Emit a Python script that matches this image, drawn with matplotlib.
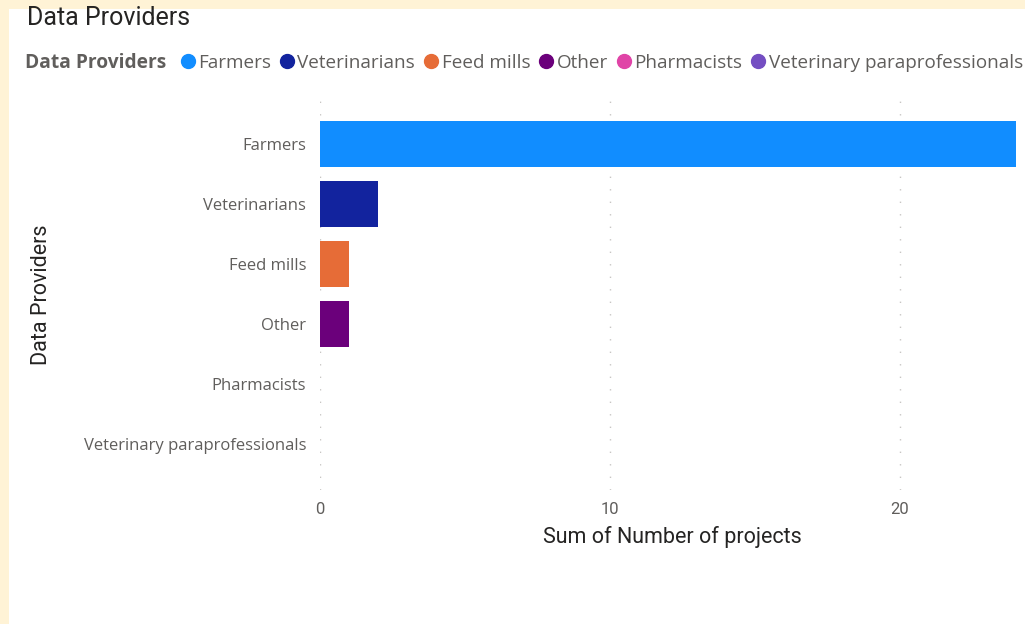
import matplotlib
matplotlib.use("Agg")
import matplotlib.pyplot as plt
from matplotlib.lines import Line2D
from matplotlib.patches import Rectangle

# values
providers = ["Farmers", "Veterinarians", "Feed mills", "Other",
             "Pharmacists", "Veterinary paraprofessionals"]
projects = [24, 2, 1, 1, 0, 0]
colors = ["#118DFF", "#12239E", "#E66C37", "#6B007B", "#E044A7", "#744EC2"]
xticks = [0, 10, 20]

W, H = 1025, 624
fig = plt.figure(figsize=(W / 100, H / 100), dpi=100)
fig.patch.set_facecolor("#FFF3D6")
# white card inside the cream frame
fig.patches.append(Rectangle((9 / W, 0), 1, 1 - 9 / H, transform=fig.transFigure,
                             facecolor="white", edgecolor="none", zorder=-5))

label_font = ["Open Sans", "DejaVu Sans"]
din_font = ["Roboto", "DejaVu Sans"]

fig.text(27 / W, 1 - 18 / H, "Data Providers", fontsize=18, color="#252423",
         family=din_font, va="center", ha="left")

# legend row (runs off the right edge, as in the report)
fig.text(25 / W, 1 - 63 / H, "Data Providers", fontsize=13.8, fontweight="bold",
         color="#605E5C", family=label_font, va="center", ha="left")
handles = [Line2D([], [], marker="o", linestyle="none", markersize=10,
                  markerfacecolor=c, markeredgecolor=c) for c in colors]
fig.legend(handles, providers, loc="center left", ncol=len(providers),
           bbox_to_anchor=(181 / W, 1 - 63 / H), frameon=False,
           handlelength=0.7, handletextpad=0.2, columnspacing=0.5,
           borderpad=0, borderaxespad=0,
           prop={"family": label_font, "size": 13.6}, labelcolor="#605E5C")

ax = fig.add_axes([320 / W, 1 - 490 / H, 1 - 320 / W, 390 / H])
ypos = list(range(len(providers)))
ax.barh(ypos, projects, height=0.77, color=colors, zorder=2)
ax.set_ylim(5.77, -0.733)
ax.set_xlim(0, (W - 320) / 29)

ax.set_xticks(xticks)
ax.set_xticklabels([str(t) for t in xticks], family=din_font, fontsize=12,
                   color="#605E5C")
ax.set_yticks(ypos)
ax.set_yticklabels(providers, family=label_font, fontsize=12, color="#605E5C")
ax.tick_params(axis="both", length=0)
ax.tick_params(axis="y", pad=10)
ax.tick_params(axis="x", pad=9)

ax.grid(axis="x", color="#C8C6C4", linewidth=1, linestyle=(0, (1, 8)), zorder=1)
ax.grid(axis="y", visible=False)
for s in ax.spines.values():
    s.set_visible(False)

ax.set_xlabel("Sum of Number of projects", family=din_font, fontsize=15.5,
              color="#252423", labelpad=6)
ax.set_ylabel("Data Providers", family=din_font, fontsize=15.5, color="#252423")
ax.yaxis.set_label_coords(-(320 - 52) / (W - 320), 0.5)

fig.savefig("out.png", dpi=100, facecolor=fig.get_facecolor())
